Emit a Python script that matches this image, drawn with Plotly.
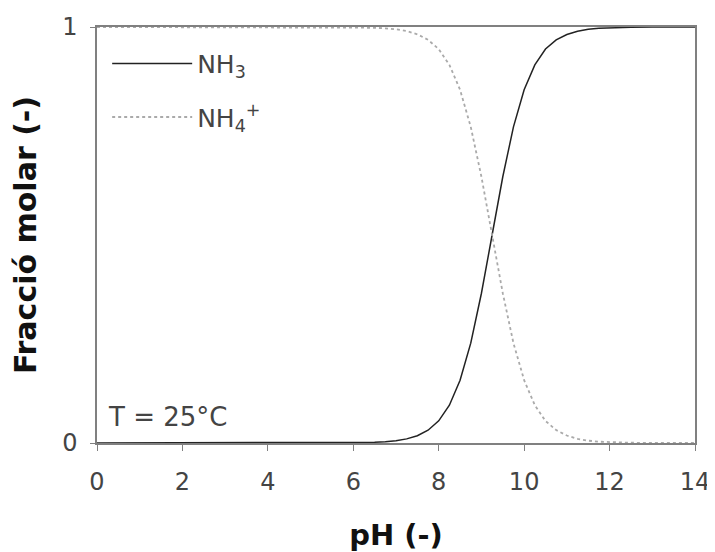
import plotly.graph_objects as go

ph = [0, 1, 2, 3, 4, 5, 5.5, 6, 6.25, 6.5, 6.75, 7, 7.25, 7.5, 7.75, 8, 8.25, 8.5, 8.75,
      9, 9.25, 9.5, 9.75, 10, 10.25, 10.5, 10.75, 11, 11.25, 11.5, 11.75, 12, 12.5, 13, 14]
nh3 = [0, 0, 0, 0, 0, 0.0001, 0.0002, 0.0006, 0.001, 0.0018, 0.0032, 0.0056, 0.0099, 0.0175,
       0.0307, 0.0532, 0.0909, 0.151, 0.240, 0.360, 0.500, 0.640, 0.760, 0.849, 0.909,
       0.947, 0.969, 0.982, 0.990, 0.9944, 0.9968, 0.9982, 0.9994, 0.9998, 1.0]
nh4 = [1, 1, 1, 1, 1, 0.9999, 0.9998, 0.9994, 0.999, 0.9982, 0.9968, 0.9944, 0.9901, 0.9825,
       0.9693, 0.9468, 0.9091, 0.849, 0.760, 0.640, 0.500, 0.360, 0.240, 0.151, 0.091,
       0.053, 0.031, 0.018, 0.010, 0.0056, 0.0032, 0.0018, 0.0006, 0.0002, 0.0]

x_ticks = [0, 2, 4, 6, 8, 10, 12, 14]
y_ticks = [0, 1]

font_family = "'DejaVu Sans', sans-serif"

fig = go.Figure()
fig.add_trace(go.Scatter(x=ph, y=nh3, mode="lines", name="NH<sub>3</sub>", legendgroup="a",
                         line=dict(color="#222222", width=1.5)))
fig.add_trace(go.Scatter(x=ph, y=nh4, mode="lines", name="NH<sub>4</sub><sup>+</sup>", legendgroup="b",
                         line=dict(color="#aaaaaa", width=1.8, dash="dot")))

fig.add_annotation(x=0.015, y=0.022, xref="paper", yref="paper", xanchor="left", yanchor="bottom",
                   text="T = 25°C", showarrow=False, font=dict(size=26, color="#444444", family=font_family))

fig.update_layout(
    width=707, height=544,
    margin=dict(l=89, r=20, t=19, b=109),
    paper_bgcolor="white", plot_bgcolor="white",
    font=dict(family=font_family, color="#444444", size=24),
    showlegend=True,
    legend=dict(x=0.017, y=0.967, xanchor="left", yanchor="top", bgcolor="rgba(0,0,0,0)",
                font=dict(size=25, color="#444444"), itemwidth=80, traceorder="grouped",
                tracegroupgap=18),
    xaxis=dict(range=[0, 14], tickvals=x_ticks, showgrid=False, zeroline=False, automargin=False,
               showline=True, linecolor="#808080", linewidth=1.5, mirror=True,
               ticks="outside", ticklen=6, tickcolor="#808080", ticklabelstandoff=10,
               tickfont=dict(size=24, color="#444444"),
               title=dict(text="<b>pH (-)</b>", font=dict(size=29, color="#111111"), standoff=31)),
    yaxis=dict(range=[0, 1], tickvals=y_ticks, showgrid=False, zeroline=False, automargin=False,
               showline=True, linecolor="#808080", linewidth=1.5, mirror=True,
               ticks="outside", ticklen=5, tickcolor="#808080", ticklabelstandoff=8,
               tickfont=dict(size=24, color="#444444"),
               title=dict(text="<b>Fracció molar (-)</b>", font=dict(size=30, color="#111111"), standoff=22)),
)

fig.write_html("out.html")
